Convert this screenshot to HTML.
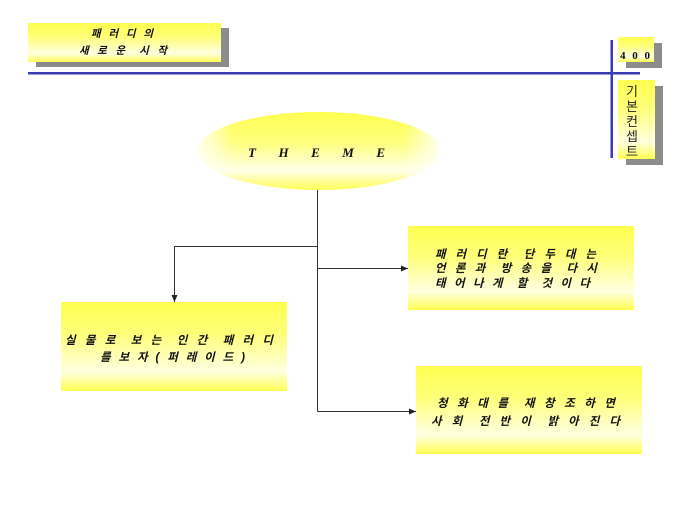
<!DOCTYPE html>
<html>
<head>
<meta charset="utf-8">
<style>
  html,body{margin:0;padding:0;background:#fff;}
  svg{display:block;}
  text{white-space:pre;}
  .k{font-family:"Liberation Sans","Noto Sans CJK KR",sans-serif;font-style:italic;font-weight:bold;font-size:11.5px;fill:#111;}
</style>
</head>
<body>
<svg width="680" height="510" viewBox="0 0 680 510" xmlns="http://www.w3.org/2000/svg" xml:space="preserve">
  <defs>
    <linearGradient id="yg" x1="0" y1="0" x2="0" y2="1">
      <stop offset="0" stop-color="#ffff50"/>
      <stop offset="0.35" stop-color="#ffff78"/>
      <stop offset="0.78" stop-color="#ffffe0"/>
      <stop offset="0.92" stop-color="#ffff88"/>
      <stop offset="1" stop-color="#ffff50"/>
    </linearGradient>
    <linearGradient id="eg" x1="0" y1="0" x2="0" y2="1">
      <stop offset="0" stop-color="#ffff50"/>
      <stop offset="0.4" stop-color="#ffff80"/>
      <stop offset="0.75" stop-color="#ffffe8"/>
      <stop offset="1" stop-color="#ffff58"/>
    </linearGradient>
    <linearGradient id="hf" x1="0" y1="0" x2="1" y2="0">
      <stop offset="0" stop-color="#ffffff" stop-opacity="0.85"/>
      <stop offset="0.15" stop-color="#ffffff" stop-opacity="0"/>
      <stop offset="0.85" stop-color="#ffffff" stop-opacity="0"/>
      <stop offset="1" stop-color="#ffffff" stop-opacity="0.85"/>
    </linearGradient>
    <marker id="ah" markerWidth="7" markerHeight="6" refX="7" refY="3" orient="auto" markerUnits="userSpaceOnUse">
      <path d="M0,0 L7,3 L0,6 Z" fill="#222"/>
    </marker>
  </defs>

  <!-- Title box -->
  <rect x="36" y="28" width="193" height="39" fill="#8c8c8c"/>
  <rect x="28" y="23" width="193" height="39" fill="url(#yg)"/>
  <text class="k" style="font-size:10.5px" x="91" y="37" textLength="62" lengthAdjust="spacing">패 러 디 의</text>
  <text class="k" style="font-size:10.5px" x="79" y="54" textLength="88" lengthAdjust="spacing">새 로 운  시 작</text>

  <!-- Blue lines -->
  <rect x="28" y="72" width="612" height="2.5" fill="#3a3ab8"/>
  <rect x="610.5" y="40" width="2.5" height="118" fill="#3a3ab8"/>

  <!-- 400 box -->
  <rect x="626" y="43" width="36" height="25" fill="#8c8c8c"/>
  <rect x="618" y="37" width="36" height="25" fill="url(#yg)"/>
  <text x="620" y="59" textLength="30" lengthAdjust="spacing" style="font-family:'Liberation Serif',serif;font-weight:bold;font-size:11px;fill:#111;">4 0 0</text>

  <!-- 기본컨셉트 box -->
  <rect x="626" y="86" width="37" height="79" fill="#8c8c8c"/>
  <rect x="618" y="80" width="37" height="79" fill="url(#yg)"/>
  <g style="font-family:'Liberation Sans','Noto Sans CJK KR',sans-serif;font-size:13px;fill:#222;" text-anchor="middle">
    <text x="632" y="96">기</text>
    <text x="632" y="111">본</text>
    <text x="632" y="126">컨</text>
    <text x="632" y="141">셉</text>
    <text x="632" y="156">트</text>
  </g>

  <!-- Ellipse -->
  <ellipse cx="319" cy="151" rx="121" ry="39" fill="url(#eg)"/>
  <ellipse cx="319" cy="151" rx="121" ry="39" fill="url(#hf)"/>
  <text x="248" y="157" textLength="137" lengthAdjust="spacing" style="font-family:'Liberation Serif',serif;font-weight:bold;font-style:italic;font-size:13px;fill:#111;">T H E M E</text>

  <!-- Connectors -->
  <g stroke="#333" stroke-width="1" fill="none">
    <line x1="317.5" y1="190" x2="317.5" y2="411.5"/>
    <polyline points="317.5,246.5 174.5,246.5 174.5,302" marker-end="url(#ah)"/>
    <line x1="317.5" y1="268.5" x2="408" y2="268.5" marker-end="url(#ah)"/>
    <line x1="317.5" y1="411.5" x2="416" y2="411.5" marker-end="url(#ah)"/>
  </g>

  <!-- Box right top -->
  <rect x="408" y="226" width="226" height="84" fill="url(#yg)"/>
  <text class="k" x="435" y="258" textLength="161" lengthAdjust="spacing">패 러 디 란  단 두 대 는</text>
  <text class="k" x="435" y="272" textLength="162" lengthAdjust="spacing">언 론 과  방 송 을  다 시</text>
  <text class="k" x="435" y="287" textLength="155" lengthAdjust="spacing">태 어 나 게  할  것 이 다</text>

  <!-- Box left -->
  <rect x="61" y="302" width="226" height="89" fill="url(#yg)"/>
  <text class="k" x="65" y="344" textLength="208" lengthAdjust="spacing">실 물 로  보 는  인 간  패 러 디</text>
  <text class="k" x="100" y="361" textLength="145" lengthAdjust="spacing">를 보 자 ( 퍼 레 이 드 )</text>

  <!-- Box bottom right -->
  <rect x="416" y="366" width="226" height="88" fill="url(#yg)"/>
  <text class="k" x="437" y="407" textLength="178" lengthAdjust="spacing">청 화 대 를  재 창 조 하 면</text>
  <text class="k" x="431" y="425" textLength="189" lengthAdjust="spacing">사 회  전 반 이  밝 아 진 다</text>
</svg>
</body>
</html>
